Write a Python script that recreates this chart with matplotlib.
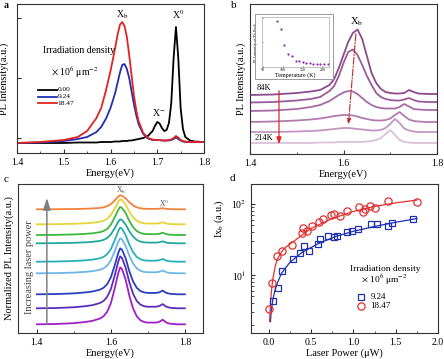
import matplotlib

matplotlib.use("Agg")
import matplotlib.pyplot as plt
from matplotlib.patches import Rectangle

W, H = 444, 359

# ---- panel a: PL spectra vs irradiation density ----
A_ENERGY = [1.40, 1.45, 1.50, 1.53, 1.55, 1.57, 1.58, 1.59, 1.60, 1.61, 1.615, 1.62,
            1.625, 1.63, 1.635, 1.64, 1.645, 1.65, 1.655, 1.66, 1.67, 1.68, 1.69, 1.695,
            1.70, 1.705, 1.71, 1.715, 1.72, 1.725, 1.73, 1.735, 1.74, 1.745, 1.75, 1.755,
            1.76, 1.77, 1.78, 1.80]
A_000 = [0, 0, 0, 0.5, 0.5, 0.5, 1, 1, 1, 1.5, 1.5, 1.5, 2, 2, 2, 2.5, 2.5, 3, 3.5, 4,
         5, 7, 12, 17, 21, 19.5, 15, 12, 13, 20, 40, 85, 116, 85, 35, 14, 6, 2.5, 1.5, 1]
A_924 = [0, 0.5, 2, 4, 6, 11, 16, 24, 35, 50, 60, 70, 78, 79, 74, 65, 52, 39, 28, 19,
         9, 4.5, 3, 3, 3, 3, 2.5, 2.5, 2.5, 2.5, 3, 4, 5.5, 4, 2.5, 1.5, 1, 1, 1, 1]
A_1847 = [0, 1, 3, 6, 12, 25, 35, 52, 72, 95, 108, 118, 121, 117, 106, 88, 68, 48, 33,
          22, 10, 5, 3.5, 3, 3, 3, 2.5, 2.5, 2.5, 3, 3.5, 5, 7, 5.5, 3, 2, 1.5, 1, 1, 1]
A_LABELS = ["0.00", "9.24", "18.47"]
A_COLORS = ["#000000", "#1f2fb0", "#e02424"]

# ---- panel b: temperature series (84K top -> 214K bottom) ----
B_ENERGY = [1.40, 1.45, 1.50, 1.53, 1.55, 1.57, 1.58, 1.59, 1.60, 1.61, 1.62, 1.63, 1.64,
            1.65, 1.66, 1.67, 1.68, 1.69, 1.70, 1.71, 1.72, 1.73, 1.74, 1.75, 1.76, 1.78,
            1.80]
B_CURVES = [
    [59, 59.5, 61, 62.5, 64, 69, 75, 86, 99, 112, 121, 124.5, 115, 98, 81, 71, 65, 62,
     61, 60.5, 60.5, 61, 64, 62, 60.5, 60, 60],
    [51.5, 52, 53.5, 55, 57, 63, 68, 78, 91, 102, 104.5, 99, 89, 78, 69, 61, 57, 55, 54,
     53.5, 53.5, 54.5, 56, 54, 52.5, 52, 52],
    [43, 43.5, 45, 47, 49, 53, 56, 59, 61.5, 63, 62.5, 60, 56, 52, 49, 47, 46, 45.5,
     45.5, 45.5, 47, 50, 47.5, 45, 44.5, 44, 44],
    [32, 32.5, 33.5, 34.5, 35.5, 37, 38, 38.5, 39, 39, 38.5, 37.5, 36, 35, 34, 33.5,
     33.5, 34, 35.5, 39, 42, 38, 34.5, 33, 32.5, 32, 32],
    [22, 22, 22.5, 23, 23.5, 24.5, 25, 25.5, 26, 26, 25.5, 25, 24.5, 24, 23.5, 23.5, 24,
     26, 30, 35, 31, 25.5, 23.5, 22.5, 22, 22, 22],
    [11, 11, 11, 11, 11.5, 11.5, 11.5, 12, 12, 12, 12, 12, 12, 12.5, 13, 14, 16, 20, 24,
     19, 14, 12, 11.5, 11, 11, 11, 11],
]
B_COLORS = ["#8e4a8e", "#9a5a9a", "#a66ba6", "#b07cae", "#c395c0", "#dcc0da"]
INSET_TEMP = [85, 95, 104, 114, 123, 132, 141, 150, 159, 168, 177, 186, 195, 205, 214]
INSET_INT = [47, 39, 22, 13, 11, 6, 6, 5, 4, 4, 3, 3, 3, 3, 3]

# ---- panel c: normalized spectra vs laser power (bottom -> top) ----
C_ENERGY = [1.40, 1.45, 1.50, 1.53, 1.55, 1.57, 1.58, 1.59, 1.60, 1.61, 1.62, 1.625,
            1.63, 1.64, 1.65, 1.66, 1.67, 1.68, 1.69, 1.70, 1.72, 1.73, 1.74, 1.75, 1.76,
            1.78, 1.80]
C_PROFILE = [0, 0.005, 0.02, 0.04, 0.06, 0.10, 0.14, 0.22, 0.37, 0.62, 0.9, 1.0, 0.97,
             0.78, 0.5, 0.28, 0.14, 0.07, 0.04, 0.03, 0.03, 0.04, 0.08, 0.03, 0.01, 0, 0]
C_OFFSETS = [8.7, 24.7, 38.7, 59.7, 71.3, 89.7, 98, 108.7, 123.7]
C_HEIGHTS = [57, 52, 46, 35, 34, 24, 28, 25, 14]
C_COLORS = ["#a020c8", "#5b2dbe", "#2b3fbf", "#6eb6e8", "#27b0b8", "#20a89a",
            "#3db83d", "#e5d43a", "#f0823a"]

# ---- panel d: Xb intensity vs laser power ----
D_P_924 = [0.047, 0.105, 0.156, 0.285, 0.371, 0.422, 0.48, 0.586, 0.605, 0.695, 0.77,
           0.81, 0.92, 0.98, 1.05, 1.21, 1.28, 1.41, 1.46, 1.71]
D_I_924 = [4.35, 6.6, 11.4, 16.6, 20.6, 25.6, 22, 27, 31.8, 35.4, 34, 35.4, 39.5, 42,
           44, 51.8, 51.8, 49.5, 53.5, 60.8]
D_P_1847 = [0.0, 0.04, 0.10, 0.16, 0.27, 0.39, 0.40, 0.45, 0.51, 0.59, 0.64, 0.73,
            0.77, 0.84, 0.92, 1.07, 1.11, 1.14, 1.20, 1.26, 1.41, 1.75]
D_I_1847 = [3.3, 7.8, 18.5, 21.8, 26.5, 38.6, 46, 42, 49.5, 56, 61, 70, 71.5, 68, 80,
            89, 75.5, 84, 92, 87, 108, 107]
FIT_P_924 = [0.02, 0.03, 0.05, 0.075, 0.1, 0.15, 0.25, 0.4, 0.6, 0.8, 1.0, 1.25, 1.5, 1.75]
FIT_I_924 = [2.2, 3.2, 4.6, 6.2, 7.6, 10.5, 15, 21, 28, 35, 41, 48, 55, 62]
FIT_P_1847 = [0.01, 0.02, 0.035, 0.05, 0.075, 0.1, 0.15, 0.2, 0.3, 0.5, 0.75, 1.0, 1.25,
              1.5, 1.75]
FIT_I_1847 = [2.2, 4.0, 6.5, 9.0, 13, 16.5, 21, 24.5, 30, 45, 62, 78, 92, 103, 113]


def px_axes(fig, left, top, right, bottom):
    return fig.add_axes([left / W, 1 - bottom / H, (right - left) / W, (bottom - top) / H])


def style_axes(ax):
    for sp in ax.spines.values():
        sp.set_color("#333333")
        sp.set_linewidth(0.8)
    ax.tick_params(which="both", direction="in", labelsize=7, color="#333333")
    ax.tick_params(which="major", length=3)
    ax.tick_params(which="minor", length=1.8)


def panel_a(fig):
    ax = px_axes(fig, 17, 4, 204, 153)
    for ys, col in zip([A_000, A_924, A_1847], A_COLORS):
        ax.plot(A_ENERGY, ys, color=col, lw=1.3)
    ax.set_xlim(1.4, 1.8)
    ax.set_ylim(-10, 139)
    ax.set_xticks([1.4, 1.5, 1.6, 1.7, 1.8])
    ax.set_xticks([1.45, 1.55, 1.65, 1.75], minor=True)
    ax.set_yticks([5, 65, 125])
    ax.set_yticklabels([])
    style_axes(ax)
    ax.set_xlabel("Energy(eV)", fontsize=7.5, labelpad=1)
    ax.set_ylabel("PL Intensity(a.u.)", fontsize=7.5, labelpad=2)
    ax.text(1.625, 128, r"X$_\mathrm{b}$", ha="center", va="center", fontsize=7)
    ax.text(1.744, 128, r"X$^0$", ha="center", va="center", fontsize=7)
    ax.text(1.702, 30, r"X$^{-}$", ha="center", va="center", fontsize=7)
    # legend, drawn by hand to keep the tight line spacing of the original
    ax.text(0.33, 0.687, "Irradiation density", transform=ax.transAxes,
            ha="center", va="center", fontsize=7)
    ax.text(0.31, 0.545, r"$\times$ 10$^6$ μm$^{-2}$", transform=ax.transAxes,
            ha="center", va="center", fontsize=7)
    for i, (lab, col) in enumerate(zip(A_LABELS, A_COLORS)):
        yy = 0.425 - i * 0.046
        ax.plot([0.112, 0.213], [yy, yy], color=col, lw=1.3, transform=ax.transAxes)
        ax.text(0.218, yy, lab, transform=ax.transAxes, ha="left", va="center",
                fontsize=5.3)
    fig.text(4 / W, 1 - 5 / H, "a", fontsize=7, fontweight="bold", ha="left", va="center")


def panel_b(fig):
    ax = px_axes(fig, 250, 4, 437, 154)
    for ys, col in zip(B_CURVES, B_COLORS):
        ax.plot(B_ENERGY, ys, color=col, lw=1.3)
    ax.set_xlim(1.4, 1.8)
    ax.set_ylim(0, 150)
    ax.set_xticks([1.4, 1.6, 1.8])
    ax.set_xticks([1.5, 1.7], minor=True)
    ax.set_yticks([])
    style_axes(ax)
    ax.set_xlabel("Energy(eV)", fontsize=7.5, labelpad=1)
    ax.set_ylabel("PL Intensity(a.u.)", fontsize=7.5, labelpad=3)
    ax.annotate("", xy=(1.462, 7), xytext=(1.462, 66),
                arrowprops=dict(arrowstyle="-|>,head_width=0.15,head_length=0.4",
                                color="#e02a2a", lw=0.9))
    ax.annotate("", xy=(1.610, 27), xytext=(1.627, 123),
                arrowprops=dict(arrowstyle="-|>,head_width=0.12,head_length=0.3",
                                color="#c0282a", lw=0.8, linestyle="-."))
    ax.text(1.415, 66, "84K", fontsize=6, ha="left", va="center")
    ax.text(1.41, 16, "214K", fontsize=6, ha="left", va="center")
    ax.text(1.628, 132, r"X$_\mathrm{b}$", fontsize=7.5, ha="center", va="center")
    fig.text(234 / W, 1 - 6 / H, "b", fontsize=8, ha="center", va="center")

    frame = Rectangle((255 / W, 1 - 79 / H), 78 / W, 65 / H, transform=fig.transFigure,
                      fill=False, edgecolor="#999999", lw=0.7)
    fig.add_artist(frame)
    ins = px_axes(fig, 262, 17, 329, 67)
    ins.plot(INSET_TEMP, INSET_INT, "o", color="#8b2bb5", ms=1.6, mec="none")
    ins.set_xlim(47, 217)
    ins.set_ylim(0, 51)
    ins.set_xticks([50, 100, 150, 200])
    ins.set_yticks([0, 25, 50])
    ins.set_yticklabels([])
    for sp in ins.spines.values():
        sp.set_color("#aaaaaa")
        sp.set_linewidth(0.5)
    ins.tick_params(direction="in", labelsize=2.8, length=1, width=0.4, pad=0.8)
    ins.set_xlabel("Temperature (K)", fontsize=4.3, labelpad=0.3)
    ins.set_ylabel(r"PL Intensity of X$_\mathrm{b}$ Peak", fontsize=3, labelpad=0.5)


def panel_c(fig):
    ax = px_axes(fig, 18, 184, 203, 333)
    for off, hgt, col in zip(C_OFFSETS, C_HEIGHTS, C_COLORS):
        ax.plot(C_ENERGY, [off + hgt * v for v in C_PROFILE], color=col, lw=1.3)
    ax.set_xlim(1.349, 1.849)
    ax.set_ylim(0, 149)
    ax.set_xticks([1.4, 1.6, 1.8])
    ax.set_xticks([1.5, 1.7], minor=True)
    ax.set_yticks([])
    style_axes(ax)
    ax.set_xlabel("Energy(eV)", fontsize=7.5, labelpad=1)
    ax.set_ylabel("Normalized PL Intensity(a.u.)", fontsize=7.5, labelpad=3)
    ax.annotate("", xy=(1.427, 138), xytext=(1.427, 6),
                arrowprops=dict(arrowstyle="-|>,head_width=0.22,head_length=0.7",
                                color="#808080", lw=1.1))
    ax.text(1.381, 66, "Increasing laser power", rotation=90, fontsize=7.5,
            ha="center", va="center", color="#444444")
    ax.text(1.628, 143, r"X$_\mathrm{b}$", fontsize=5.5, ha="center", va="center",
            color="#555555")
    ax.text(1.744, 130, r"X$^0$", fontsize=5.5, ha="center", va="center", color="#555555")
    fig.text(4 / W, 1 - 180 / H, "c", fontsize=8, ha="left", va="center")


def panel_d(fig):
    ax = px_axes(fig, 251, 184, 438, 333)
    ax.plot(FIT_P_924, FIT_I_924, color="#2030b0", lw=0.9)
    ax.plot(FIT_P_1847, FIT_I_1847, color="#e03030", lw=0.9)
    ax.plot(D_P_924, D_I_924, "s", ms=4.6, mfc="none", mec="#2030b0", mew=0.9)
    ax.plot(D_P_1847, D_I_1847, "o", ms=5.2, mfc="none", mec="#e03030", mew=0.9)
    ax.set_yscale("log")
    ax.set_xlim(-0.21, 2.0)
    ax.set_ylim(1.52, 190)
    ax.set_xticks([0.0, 0.5, 1.0, 1.5, 2.0])
    ax.set_xticklabels(["0.0", "0.5", "1.0", "1.5", "2.0"])
    ax.set_xticks([0.25, 0.75, 1.25, 1.75], minor=True)
    ax.set_yticks([10, 100])
    ax.set_yticklabels([r"10$^1$", r"10$^2$"])
    style_axes(ax)
    ax.set_xlabel("Laser Power (μW)", fontsize=7.5, labelpad=1)
    ax.set_ylabel(r"Ix$_\mathrm{b}$ (a.u.)", fontsize=7.5)
    ax.yaxis.set_label_coords(-0.135, 0.77)
    ax.text(0.716, 0.431, "Irradiation density", transform=ax.transAxes,
            ha="center", va="center", fontsize=6.8)
    ax.text(0.713, 0.356, r"$\times$ 10$^6$ μm$^{-2}$", transform=ax.transAxes,
            ha="center", va="center", fontsize=6.8)
    ax.plot([0.59], [0.242], "s", ms=4.6, mfc="none", mec="#2030b0", mew=0.9,
            transform=ax.transAxes)
    ax.plot([0.59], [0.181], "o", ms=5.2, mfc="none", mec="#e03030", mew=0.9,
            transform=ax.transAxes)
    ax.text(0.64, 0.242, "9.24", transform=ax.transAxes, ha="left", va="center",
            fontsize=6.5)
    ax.text(0.64, 0.181, "18.47", transform=ax.transAxes, ha="left", va="center",
            fontsize=6.5)
    fig.text(232 / W, 1 - 178 / H, "d", fontsize=8, ha="center", va="center")


def main():
    plt.rcParams["font.family"] = ["Liberation Serif", "DejaVu Serif"]
    plt.rcParams["mathtext.fontset"] = "stix"
    fig = plt.figure(figsize=(W / 100, H / 100), dpi=100)
    panel_a(fig)
    panel_b(fig)
    panel_c(fig)
    panel_d(fig)
    fig.savefig("out.png", dpi=100)
    plt.close(fig)


if __name__ == "__main__":
    main()
